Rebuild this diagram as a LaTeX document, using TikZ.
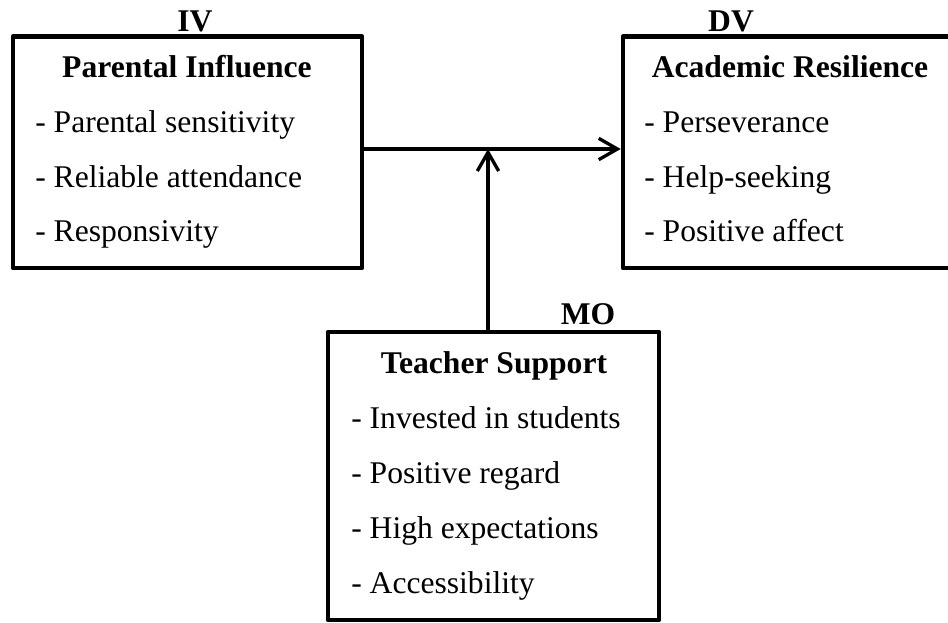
\documentclass[tikz,border=0pt]{standalone}
\usepackage{fontspec}
\setmainfont{Liberation Serif}
\usetikzlibrary{arrows.meta}
\tikzset{
  box/.style={draw, line width=3.4pt, rectangle, inner sep=0pt, line join=round},
  lbl/.style={inner sep=0pt, anchor=base, font=\fontsize{23.7}{28}\selectfont\bfseries},
  ttl/.style={inner sep=0pt, anchor=base, font=\fontsize{23.7}{28}\selectfont\bfseries},
  itm/.style={inner sep=0pt, anchor=base west, font=\fontsize{23.7}{28}\selectfont},
  conn/.style={line width=2.5pt, -{Straight Barb[length=14pt, width=16pt, line width=2.5pt]}}
}
\begin{document}
\begin{tikzpicture}[x=0.75pt, y=-0.75pt]
\useasboundingbox (0,0) rectangle (948,623);
% boxes
\node[box, minimum width=261.75pt, minimum height=173.6pt] (iv) at (187.5,152.25) {};
\node[box, minimum width=247.5pt, minimum height=173.6pt] (dv) at (788,152.25) {};
\node[box, minimum width=248.25pt, minimum height=216pt] (mo) at (493.5,476) {};
% labels
\node[lbl] (ivl) at (195,32) {IV};
\node[lbl] (dvl) at (731,32) {DV};
\node[lbl] (mol) at (588,325) {MO};
% titles
\node[ttl] (ivt) at (187,78) {Parental Influence};
\node[ttl] (dvt) at (790,78) {Academic Resilience};
\node[ttl] (mot) at (494,373) {Teacher Support};
% items
\node[itm] (iv1) at (35,133) {- Parental sensitivity};
\node[itm] (iv2) at (35,188) {- Reliable attendance};
\node[itm] (iv3) at (35,242) {- Responsivity};
\node[itm] (dv1) at (644,133) {- Perseverance};
\node[itm] (dv2) at (644,188) {- Help-seeking};
\node[itm] (dv3) at (644,242) {- Positive affect};
\node[itm] (mo1) at (351,428) {- Invested in students};
\node[itm] (mo2) at (351,483) {- Positive regard};
\node[itm] (mo3) at (351,538) {- High expectations};
\node[itm] (mo4) at (351,593) {- Accessibility};
% connectors
\coordinate (j) at (488,149);
\draw[conn] (iv.east |- j) -- (dv.west |- j);
\draw[conn] (j |- mo.north) -- (j);
\end{tikzpicture}
\end{document}
